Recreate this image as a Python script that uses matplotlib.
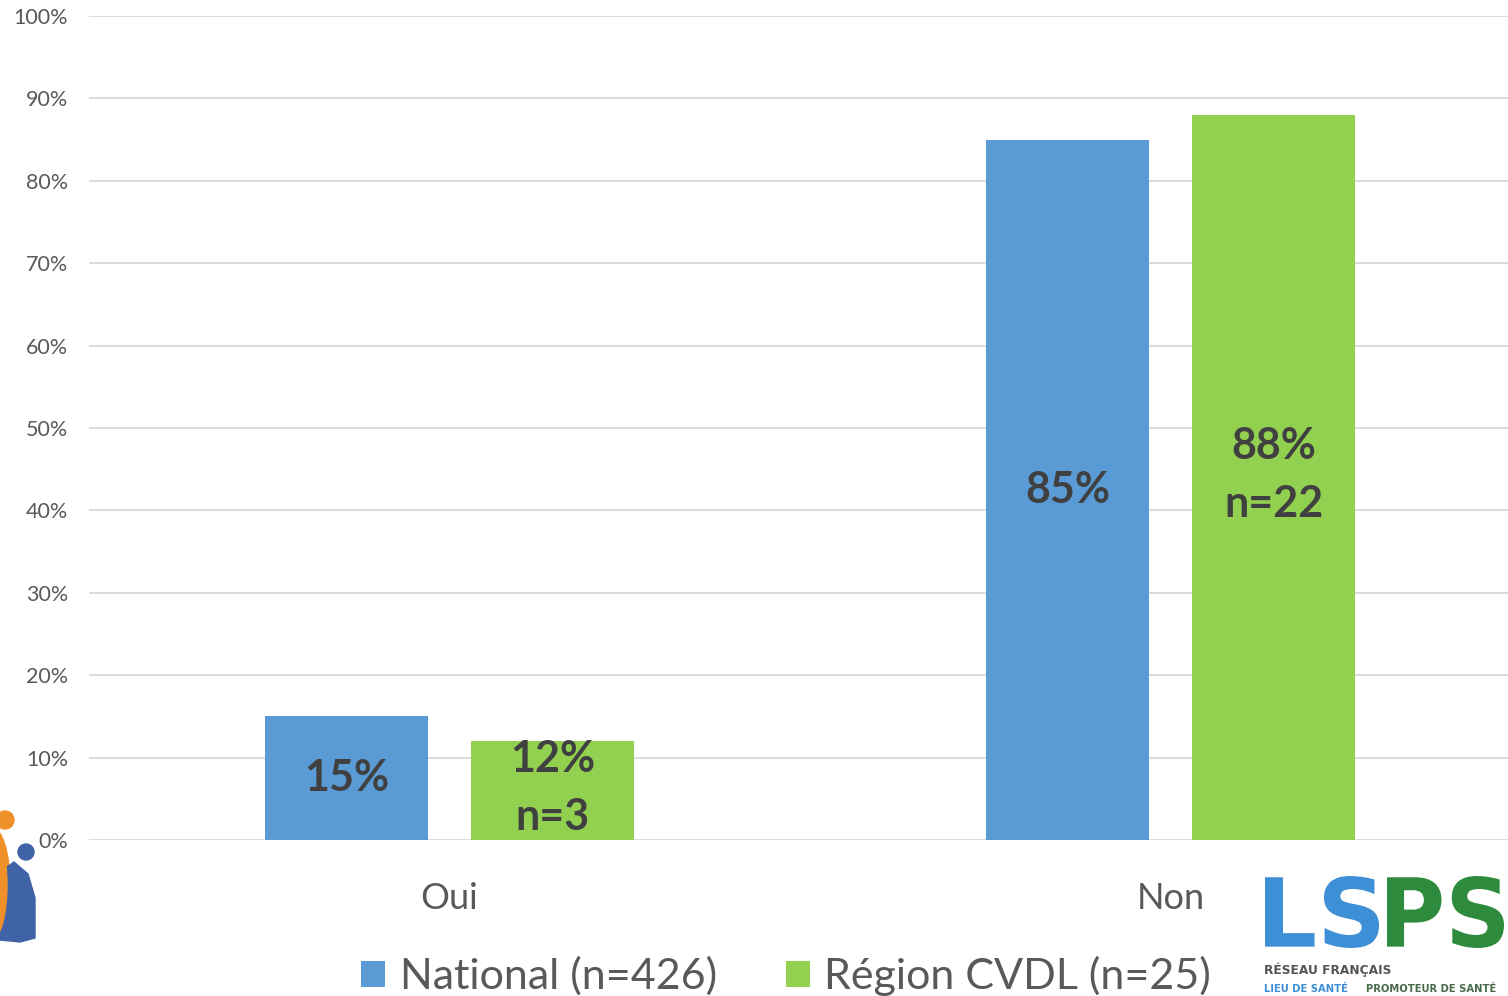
import matplotlib
matplotlib.use("Agg")
import matplotlib.pyplot as plt
from matplotlib.patches import Patch, Circle, Ellipse, Polygon, PathPatch
from matplotlib.textpath import TextPath
from matplotlib.font_manager import FontProperties
from matplotlib.transforms import Affine2D
import numpy as np

# Data
categories = ["Oui", "Non"]
series_names = ["National (n=426)", "Région CVDL (n=25)"]
national = [15, 85]
region = [12, 88]
region_counts = [3, 22]
yticks = [0, 10, 20, 30, 40, 50, 60, 70, 80, 90, 100]

BLUE = "#5B9BD5"
GREEN = "#92D050"
GRID = "#D9D9D9"
TICK = "#595959"
LABEL = "#404040"
FONT = "Lato"

W, H = 1508, 996
fig = plt.figure(figsize=(W / 100, H / 100), dpi=100)
fig.patch.set_facecolor("white")

ax = fig.add_axes([89 / W, (H - 840) / H, 1419 / W, 824 / H])
x = np.arange(len(categories))
bw = 0.225
off = 0.143

b1 = ax.bar(x - off, national, bw, color=BLUE, zorder=3)
b2 = ax.bar(x + off, region, bw, color=GREEN, zorder=3)

for rect, v in zip(b1, national):
    ax.text(rect.get_x() + rect.get_width() / 2, v / 2, f"{v}%",
            ha="center", va="center", fontsize=31, fontweight="bold",
            color=LABEL, family=FONT, zorder=4)
for rect, v, n in zip(b2, region, region_counts):
    ax.text(rect.get_x() + rect.get_width() / 2, v / 2 + 0.3, f"{v}%\nn={n}",
            ha="center", va="center", fontsize=31, fontweight="bold",
            color=LABEL, family=FONT, linespacing=1.55, zorder=4)

ax.set_ylim(0, 100)
ax.set_xlim(-0.5, 1.5 - 23 / 721)
ax.set_yticks(yticks)
ax.set_yticklabels([f"{t}%" for t in yticks], family=FONT, fontsize=15.5, color=TICK)
ax.set_xticks(x)
ax.set_xticklabels(categories, family=FONT, fontsize=26, color=TICK)
ax.tick_params(axis="y", length=0, pad=15)
ax.tick_params(axis="x", length=0, pad=30)
ax.yaxis.grid(True, color=GRID, linewidth=1.3, zorder=0)
ax.set_axisbelow(True)
for s in ax.spines.values():
    s.set_visible(False)

handles = [Patch(facecolor=BLUE, edgecolor="none"), Patch(facecolor=GREEN, edgecolor="none")]
leg = fig.legend(handles, series_names, loc="center", bbox_to_anchor=(786 / W, 20 / H),
                 ncol=2, frameon=False, prop={"family": FONT, "size": 31},
                 handlelength=0.57, handleheight=0.57, handletextpad=0.33,
                 columnspacing=1.6, borderaxespad=0)
for t in leg.get_texts():
    t.set_color(TICK)

# Overlay in pixel coordinates for the logos
lx = fig.add_axes([0, 0, 1, 1], facecolor="none")
lx.set_xlim(0, W)
lx.set_ylim(H, 0)
lx.axis("off")

# Left logo (two stylised figures)
lx.add_patch(Ellipse((-8, 885), 36, 115, color="#F0902A"))
lx.add_patch(Polygon([[0, 940], [0, 872], [14, 862], [28, 874], [35, 898], [35, 938], [20, 942]],
                     closed=True, color="#3F63A6"))
lx.add_patch(Ellipse((-8, 885), 30, 108, color="#F0902A", zorder=3))
lx.add_patch(Circle((5, 820), 9, color="#F0902A"))
lx.add_patch(Circle((26, 852), 8, color="#3F63A6"))


# Right logo: wordmark letters stretched into their boxes
def wordmark(txt, x0, x1, top, base, color):
    tp = TextPath((0, 0), txt, size=1, prop=FontProperties(family="DejaVu Sans", weight="bold"))
    ext = tp.get_extents()
    sx = (x1 - x0) / ext.width
    sy = (base - top) / ext.height
    tr = Affine2D().translate(-ext.x0, -ext.y0).scale(sx, -sy).translate(x0, base)
    lx.add_patch(PathPatch(tr.transform_path(tp), color=color, lw=0))


wordmark("LS", 1265, 1379, 876, 948, "#3D8FD6")
wordmark("PS", 1387, 1504, 876, 948, "#2E8B3E")

lx.text(1264, 974, "RÉSEAU FRANÇAIS", fontsize=8.8, fontweight="bold",
        family="DejaVu Sans", color="#555555", ha="left", va="baseline")
lx.text(1264, 992, "LIEU DE SANTÉ", fontsize=7.2, fontweight="bold",
        family="DejaVu Sans", color="#3D8FD6", ha="left", va="baseline")
lx.text(1366, 992, "PROMOTEUR DE SANTÉ", fontsize=7.2, fontweight="bold",
        family="DejaVu Sans", color="#4A6B4A", ha="left", va="baseline")

fig.savefig("out.png", dpi=100)
